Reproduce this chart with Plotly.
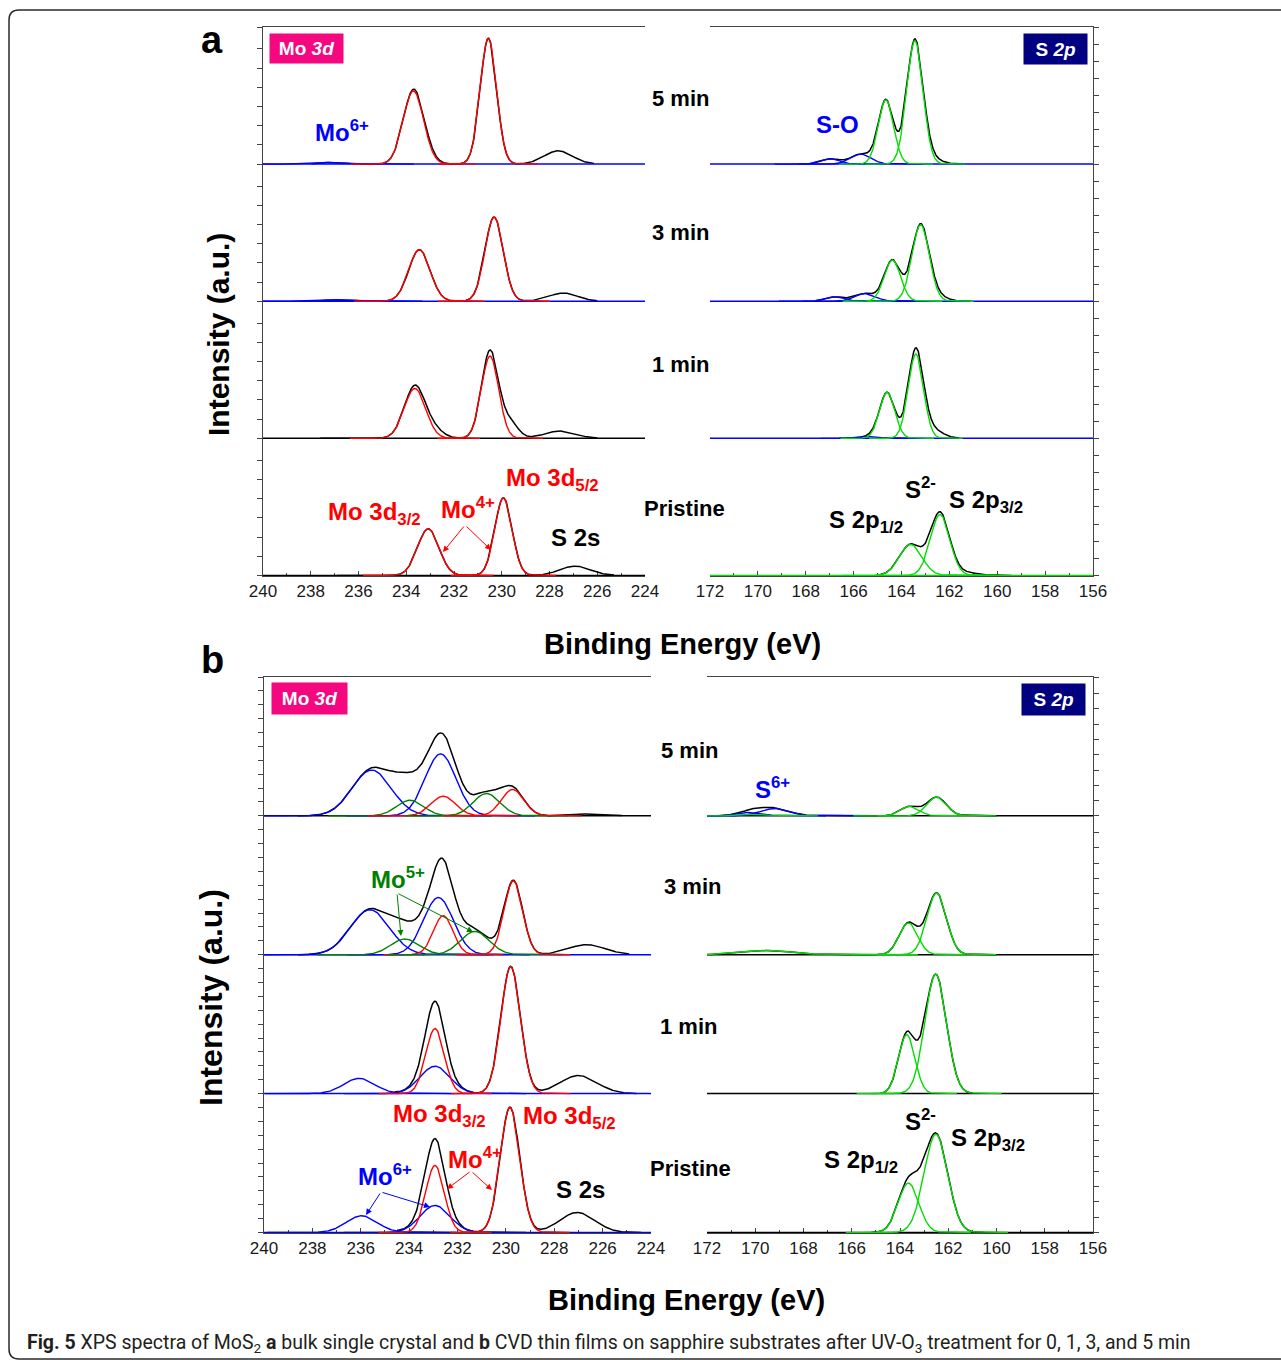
import numpy as np
import plotly.graph_objects as go

W, H = 1281, 1360

TIMES = ["Pristine", "1 min", "3 min", "5 min"]

# ---------------- data ----------------
# fitted components: (species, centre [eV], height [a.u. per stacked spectrum], FWHM [eV])
# "S2s" and "res" only contribute to the measured envelope (black) and are not drawn separately.

# panel a : bulk single crystal, Mo 3d
A_MO_0 = [("Mo4+", 233.08, 0.340, 1.05), ("Mo4+", 229.93, 0.566, 0.85), ("S2s", 226.93, 0.068, 1.5)]
A_MO_1 = [("Mo4+", 233.64, 0.364, 1.05), ("Mo4+", 230.49, 0.600, 0.85), ("S2s", 227.56, 0.053, 1.5),
          ("res", 229.65, 0.110, 0.80), ("res", 230.50, 0.040, 0.60), ("res", 232.80, 0.050, 0.90),
          ("res", 233.60, 0.020, 0.70)]
A_MO_3 = [("Mo6+", 236.70, 0.012, 1.3), ("Mo4+", 233.45, 0.376, 1.05), ("Mo4+", 230.32, 0.614, 0.90),
          ("S2s", 227.42, 0.060, 1.4)]
A_MO_5 = [("Mo6+", 237.07, 0.012, 1.3), ("Mo4+", 233.70, 0.534, 1.00), ("Mo4+", 230.56, 0.918, 0.80),
          ("S2s", 227.63, 0.097, 1.4), ("res", 233.20, 0.030, 0.9)]
A_MO_RANGE = [(236.9, 225.3), (237.6, 226.0), (237.6, 226.0), (237.96, 226.14)]

# panel a : bulk single crystal, S 2p
A_S_0 = [("S2-", 162.39, 0.444, 0.95), ("S2-", 163.62, 0.226, 1.10), ("res", 161.30, 0.020, 1.2),
         ("res", 162.40, 0.012, 0.6)]
A_S_1 = [("S-O", 165.30, 0.015, 0.8), ("S2-", 163.40, 0.615, 0.75), ("S2-", 164.60, 0.335, 0.75),
         ("res", 162.70, 0.060, 1.0), ("res", 163.40, 0.030, 0.6)]
A_S_3 = [("S-O", 166.78, 0.032, 0.9), ("S-O", 165.53, 0.056, 1.0), ("S2-", 163.20, 0.558, 0.85),
         ("S2-", 164.38, 0.300, 0.80), ("res", 162.50, 0.030, 1.0)]
A_S_5 = [("S-O", 166.96, 0.039, 0.9), ("S-O", 165.70, 0.073, 1.0), ("S2-", 163.44, 0.900, 0.80),
         ("S2-", 164.65, 0.468, 0.75), ("res", 162.80, 0.040, 1.0)]
A_S_RANGE = [(164.9, 159.4), (166.6, 161.6), (167.6, 161.1), (167.75, 161.4)]

# panel b : CVD thin films, Mo 3d
B_MO_0 = [("Mo6+", 235.96, 0.120, 1.5), ("Mo6+", 232.93, 0.194, 1.45), ("Mo4+", 232.93, 0.482, 0.90),
          ("Mo4+", 229.83, 0.902, 0.95), ("S2s", 227.05, 0.144, 1.7)]
B_MO_1 = [("Mo6+", 236.06, 0.110, 1.5), ("Mo6+", 232.93, 0.197, 1.45), ("Mo4+", 232.93, 0.468, 0.90),
          ("Mo4+", 229.80, 0.916, 0.95), ("S2s", 227.00, 0.130, 1.8)]
B_MO_3 = [("Mo6+", 235.62, 0.324, 1.9), ("Mo6+", 232.79, 0.412, 1.45), ("Mo5+", 234.17, 0.113, 1.4),
          ("Mo4+", 232.59, 0.281, 0.95), ("Mo5+", 231.28, 0.168, 1.4), ("Mo4+", 229.69, 0.532, 0.90),
          ("S2s", 226.66, 0.072, 1.8), ("res", 234.40, 0.040, 1.2)]
B_MO_5 = [("Mo6+", 235.55, 0.330, 1.9), ("Mo6+", 232.70, 0.446, 1.5), ("Mo5+", 233.96, 0.113, 1.3),
          ("Mo4+", 232.59, 0.141, 1.2), ("Mo5+", 230.80, 0.161, 1.3), ("Mo4+", 229.72, 0.190, 1.1),
          ("S2s", 226.45, 0.015, 1.5), ("res", 234.30, 0.100, 1.5)]
B_MO_RANGE = [(234.5, 224.4), (234.6, 224.6), (238.6, 224.9), (238.6, 225.2)]

# panel b : CVD thin films, S 2p
B_S_0 = [("S2-", 162.51, 0.707, 1.15), ("S2-", 163.65, 0.355, 1.00)]
B_S_1 = [("S2-", 162.52, 0.860, 1.05), ("S2-", 163.72, 0.424, 0.80)]
B_S_3 = [("S(ox)", 169.50, 0.031, 2.4), ("S2-", 162.48, 0.444, 0.95), ("S2-", 163.65, 0.228, 0.90)]
B_S_5 = [("S6+", 170.20, 0.025, 1.2), ("S6+", 169.17, 0.053, 1.4), ("S(ox)", 170.00, 0.012, 1.0),
         ("S2-", 162.48, 0.135, 0.95), ("S2-", 163.60, 0.068, 0.90)]
B_S_RANGE = [(165.2, 160.5), (164.8, 161.0), (172.0, 160.0), (172.0, 160.0)]

MO_TICKS = [240, 238, 236, 234, 232, 230, 228, 226, 224]
S_TICKS = [172, 170, 168, 166, 164, 162, 160, 158, 156]

# ---------------- styles ----------------
COL = {"Mo4+": "#ff0000", "Mo5+": "#008000", "Mo6+": "#0000ff", "S2-": "#00dd00",
       "S-O": "#0000ff", "S6+": "#0000ff", "S(ox)": "#00dd00"}
HIDDEN = {"S2s", "res"}
FONT = "Liberation Sans, Arial, sans-serif"
AX = "#444444"


def px(x):
    return x / W


def py(y):
    return 1 - y / H


def gauss(x, c, h, w):
    return h * np.exp(-4 * np.log(2) * ((x - c) / w) ** 2)


PANELS = [
    dict(spectra=[A_MO_0, A_MO_1, A_MO_3, A_MO_5], rng=A_MO_RANGE, ticks=MO_TICKS,
         box=(263, 645, 27, 576), side="left", dt=0.14,
         base=["#000000", "#000000", "#0000ff", "#0000ff"]),
    dict(spectra=[A_S_0, A_S_1, A_S_3, A_S_5], rng=A_S_RANGE, ticks=S_TICKS,
         box=(710, 1093, 27, 576), side="right", dt=0.125,
         base=["#00dd00", "#0000ff", "#0000ff", "#0000ff"]),
    dict(spectra=[B_MO_0, B_MO_1, B_MO_3, B_MO_5], rng=B_MO_RANGE, ticks=MO_TICKS,
         box=(264, 651, 677, 1233), side="left", dt=0.10,
         base=["#0000ff", "#0000ff", "#0000ff", "#000000"]),
    dict(spectra=[B_S_0, B_S_1, B_S_3, B_S_5], rng=B_S_RANGE, ticks=S_TICKS,
         box=(707, 1093, 677, 1233), side="right", dt=0.11,
         base=["#000000", "#000000", "#000000", "#000000"]),
]

fig = go.Figure()
layout = dict(width=W, height=H, autosize=False, margin=dict(l=0, r=0, t=0, b=0, autoexpand=False),
              showlegend=False, paper_bgcolor="white", plot_bgcolor="rgba(0,0,0,0)")

for i, P in enumerate(PANELS):
    n = "" if i == 0 else str(i + 1)
    xa, ya = "x" + n, "y" + n
    xhi, xlo = P["ticks"][0], P["ticks"][-1]
    for k, comps in enumerate(P["spectra"]):
        lo, hi = sorted(P["rng"][k])
        xe = np.linspace(lo, hi, 900)
        env = sum(gauss(xe, c, h, w) for (_, c, h, w) in comps)
        # measured envelope
        fig.add_trace(go.Scatter(x=xe, y=env + k, mode="lines", xaxis=xa, yaxis=ya,
                                 line=dict(color="#000000", width=1.5), hoverinfo="skip"))
        # baseline of the stacked spectrum
        fig.add_trace(go.Scatter(x=[xlo, xhi], y=[k, k], mode="lines", xaxis=xa, yaxis=ya,
                                 line=dict(color=P["base"][k], width=1.5), hoverinfo="skip"))
        # fitted components
        for (sp, c, h, w) in comps:
            if sp in HIDDEN:
                continue
            xc = np.linspace(max(xlo, c - 2.6 * w), min(xhi, c + 2.6 * w), 300)
            fig.add_trace(go.Scatter(x=xc, y=gauss(xc, c, h, w) + k, mode="lines", xaxis=xa, yaxis=ya,
                                     line=dict(color=COL[sp], width=1.4), hoverinfo="skip"))

    x0, x1, y0, y1 = P["box"]
    key = "" if i == 0 else str(i + 1)
    yt = []
    for k in range(4):
        j = 0
        while j * P["dt"] < 0.97:
            yt.append(k + j * P["dt"])
            j += 1
    yt.append(4)
    layout["xaxis" + key] = dict(domain=[px(x0), px(x1)], range=[xhi, xlo], anchor="y" + key,
                                 showline=True, linecolor=AX, linewidth=1, mirror=True,
                                 ticks="inside", ticklen=5, tickcolor=AX, tickvals=P["ticks"],
                                 ticktext=[str(t) for t in P["ticks"]],
                                 minor=dict(tickvals=[t - 1 for t in P["ticks"][:-1]], ticks="inside",
                                            ticklen=3, tickcolor=AX),
                                 tickfont=dict(family=FONT, size=17, color="#1a1a1a"),
                                 showgrid=False, zeroline=False, layer="below traces", automargin=False)
    layout["yaxis" + key] = dict(domain=[py(y1), py(y0)], range=[-0.004, 4], anchor="x" + key,
                                 side=P["side"], showline=True, linecolor=AX, linewidth=1,
                                 ticks="outside", ticklen=5, tickcolor=AX, tickvals=yt,
                                 showticklabels=False, showgrid=False, zeroline=False,
                                 layer="below traces", automargin=False)

ann = []


def text(t, x, y, size, color="#000000", xanchor="left", bold=True, angle=0, family=FONT):
    ann.append(dict(text=("<b>%s</b>" % t) if bold else t, x=px(x), y=py(y), xref="paper",
                    yref="paper", xanchor=xanchor, yanchor="middle", showarrow=False,
                    textangle=angle, font=dict(family=family, size=size, color=color)))


def arrow(tail, head, color):
    ann.append(dict(text="", x=px(head[0]), y=py(head[1]), xref="paper", yref="paper",
                    ax=tail[0] - head[0], ay=tail[1] - head[1], showarrow=True,
                    arrowhead=2, arrowsize=1.2, arrowwidth=1, arrowcolor=color))


def badge(t, x0, x1, y0, y1, bg):
    ann.append(dict(text=t, x=px((x0 + x1) / 2), y=py((y0 + y1) / 2), xref="paper", yref="paper",
                    xanchor="center", yanchor="middle", showarrow=False, bgcolor=bg,
                    width=x1 - x0, height=y1 - y0, borderpad=0,
                    font=dict(family=FONT, size=19, color="white")))


# panel letters and axis titles
text("a", 212, 40, 38, xanchor="center")
text("b", 212, 660, 38, xanchor="center")
text("Binding Energy (eV)", 682, 644, 29, xanchor="center")
text("Binding Energy (eV)", 686, 1300, 29, xanchor="center")
text("Intensity (a.u.)", 218, 335, 30, xanchor="center", angle=-90)
text("Intensity (a.u.)", 211, 997, 32, xanchor="center", angle=-90)

# time labels
for t, (x, y) in zip(TIMES, [(684, 508), (680, 365), (680, 232), (680, 99)]):
    text(t, x, y, 22, xanchor="center")
for t, (x, y) in zip(TIMES, [(690, 1168), (688, 1026), (692, 886), (689, 750)]):
    text(t, x, y, 22, xanchor="center")

# badges
badge("<b>Mo <i>3d</i></b>", 270, 343, 34, 63, "#f5077f")
badge("<b>S <i>2p</i></b>", 1024, 1087, 34, 64, "#000080")
badge("<b>Mo <i>3d</i></b>", 272, 347, 683, 714, "#f5077f")
badge("<b>S <i>2p</i></b>", 1022, 1085, 684, 715, "#000080")

RED, BLUE, GRN = "#ff0000", "#0000ff", "#008000"
# panel a annotations
text("Mo<sup>6+</sup>", 313, 131, 24, BLUE)
text("Mo 3d<sub>5/2</sub>", 504, 479, 24, RED)
text("Mo 3d<sub>3/2</sub>", 326, 513, 24, RED)
text("Mo<sup>4+</sup>", 439, 508, 24, RED)
arrow((465, 525), (443, 552), RED)
arrow((465, 525), (491, 550), RED)
text("S 2s", 549, 538, 24)
text("S-O", 814, 124, 24, BLUE)
text("S<sup>2-</sup>", 903, 488, 24)
text("S 2p<sub>3/2</sub>", 947, 501, 24)
text("S 2p<sub>1/2</sub>", 827, 521, 24)

# panel b annotations
text("Mo<sup>5+</sup>", 369, 878, 24, GRN)
arrow((397, 893), (401, 936), GRN)
arrow((397, 893), (473, 932), GRN)
text("Mo 3d<sub>3/2</sub>", 391, 1115, 24, RED)
text("Mo 3d<sub>5/2</sub>", 521, 1117, 24, RED)
text("Mo<sup>4+</sup>", 446, 1158, 24, RED)
arrow((471, 1171), (447, 1189), RED)
arrow((471, 1171), (492, 1190), RED)
text("Mo<sup>6+</sup>", 356, 1175, 24, BLUE)
arrow((381, 1192), (366, 1215), BLUE)
arrow((381, 1192), (430, 1207), BLUE)
text("S 2s", 554, 1189, 24)
text("S<sup>6+</sup>", 753, 788, 24, BLUE)
text("S<sup>2-</sup>", 903, 1120, 24)
text("S 2p<sub>3/2</sub>", 949, 1139, 24)
text("S 2p<sub>1/2</sub>", 822, 1161, 24)

# caption
text("<b>Fig. 5</b> XPS spectra of MoS<sub>2</sub> <b>a</b> bulk single crystal and <b>b</b> CVD thin films "
     "on sapphire substrates after UV-O<sub>3</sub> treatment for 0, 1, 3, and 5 min",
     25, 1343, 19.5, "#231f20", bold=False, family="Roboto, Open Sans, sans-serif")

layout["annotations"] = ann

# rounded outer frame
r = 10
path = ("M {a},{b} L {c},{b} Q {l},{b} {l},{d} L {l},{e} Q {l},{f} {c},{f} L {a},{f}").format(
    a=px(1300), b=py(10), c=px(9 + r), l=px(9), d=py(10 + r), e=py(1359 - r), f=py(1359))
layout["shapes"] = [dict(type="path", path=path, xref="paper", yref="paper",
                         line=dict(color="#2a2a2a", width=1.5))]

fig.update_layout(**layout)
fig.write_html("out.html", config={"responsive": False, "displayModeBar": False},
               post_script="document.body.style.margin='0px';document.body.style.padding='0px';"
                           "document.documentElement.style.overflow='hidden';")
